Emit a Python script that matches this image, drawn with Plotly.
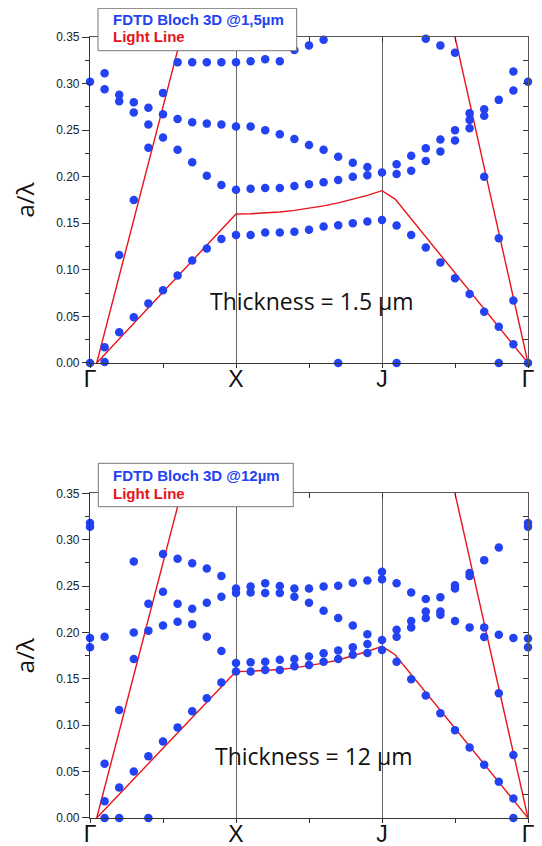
import plotly.graph_objects as go

# ---------------- data ----------------
# k index along the path: 0 = Gamma, 10 = X, 20 = J, 30 = Gamma
tick_vals = [0, 10, 20, 30]
tick_text = ["Γ", "X", "J", "Γ"]

# Top panel: thickness 1.5 um  (k index, a/lambda)
top_k = (
    [0, 0] + [1] * 4 + [2] * 4 + [3] * 4 + [4] * 4 + [5] * 4 + [6] * 4 + [7] * 4
    + [8] * 4 + [9] * 4 + [10] * 4 + [11] * 4 + [12] * 4 + [13] * 4 + [14] * 4
    + [15] * 4 + [16] * 4 + [17] * 4 + [18] * 3 + [19] * 3 + [20] * 2 + [21] * 4
    + [22] * 3 + [23] * 4 + [24] * 4 + [25] * 4 + [26] * 4 + [27] * 4 + [28] * 4
    + [29] * 4 + [30] * 2
)
top_f = [
    0.302, 0.000,
    0.311, 0.294, 0.017, 0.001,
    0.288, 0.281, 0.116, 0.033,
    0.280, 0.269, 0.175, 0.049,
    0.274, 0.256, 0.231, 0.064,
    0.290, 0.267, 0.242, 0.078,
    0.323, 0.262, 0.229, 0.094,
    0.323, 0.2585, 0.2155, 0.110,
    0.323, 0.257, 0.201, 0.123,
    0.323, 0.256, 0.191, 0.133,
    0.323, 0.254, 0.186, 0.1375,
    0.324, 0.254, 0.187, 0.1375,
    0.326, 0.250, 0.188, 0.140,
    0.324, 0.2455, 0.188, 0.140,
    0.336, 0.2405, 0.190, 0.141,
    0.341, 0.234, 0.192, 0.143,
    0.347, 0.229, 0.194, 0.1465,
    0.2215, 0.1965, 0.148, 0.000,
    0.215, 0.200, 0.150,
    0.2105, 0.2015, 0.152,
    0.2045, 0.1535,
    0.2135, 0.203, 0.1475, 0.000,
    0.2225, 0.2065, 0.1375,
    0.348, 0.2305, 0.217, 0.124,
    0.341, 0.240, 0.227, 0.108,
    0.333, 0.250, 0.239, 0.091,
    0.268, 0.261, 0.252, 0.074,
    0.2725, 0.2655, 0.200, 0.055,
    0.2825, 0.134, 0.039, 0.000,
    0.313, 0.2925, 0.067, 0.020,
    0.302, 0.000,
]

# Bottom panel: thickness 12 um
bot_k = (
    [0] * 4 + [1] * 4 + [2] * 3 + [3] * 4 + [4] * 4 + [5] * 4 + [6] * 4 + [7] * 4
    + [8] * 4 + [9] * 4 + [10] * 4 + [11] * 4 + [12] * 4 + [13] * 4 + [14] * 4
    + [15] * 4 + [16] * 4 + [17] * 4 + [18] * 4 + [19] * 4 + [20] * 4 + [21] * 4
    + [22] * 4 + [23] * 4 + [24] * 4 + [25] * 4 + [26] * 4 + [27] * 4 + [28] * 4
    + [29] * 4 + [30] * 4
)
bot_f = [
    0.318, 0.314, 0.194, 0.184,
    0.1955, 0.0585, 0.018, 0.000,
    0.1165, 0.033, 0.000,
    0.2765, 0.200, 0.1715, 0.050,
    0.231, 0.202, 0.0665, 0.000,
    0.2845, 0.244, 0.2075, 0.0825,
    0.2795, 0.231, 0.2115, 0.0975,
    0.2745, 0.2255, 0.209, 0.115,
    0.269, 0.232, 0.1955, 0.129,
    0.261, 0.2385, 0.180, 0.146,
    0.2475, 0.2425, 0.167, 0.158,
    0.2495, 0.243, 0.168, 0.158,
    0.253, 0.2425, 0.1685, 0.1595,
    0.250, 0.2425, 0.1705, 0.1595,
    0.2475, 0.2385, 0.1715, 0.1635,
    0.2475, 0.232, 0.174, 0.165,
    0.2495, 0.2235, 0.1775, 0.1685,
    0.2505, 0.2155, 0.1805, 0.1715,
    0.2535, 0.2075, 0.184, 0.176,
    0.256, 0.198, 0.1875, 0.178,
    0.2655, 0.2575, 0.192, 0.181,
    0.253, 0.203, 0.1955, 0.1685,
    0.243, 0.2125, 0.2055, 0.1495,
    0.236, 0.2225, 0.2155, 0.132,
    0.238, 0.2225, 0.219, 0.113,
    0.251, 0.2475, 0.2125, 0.0945,
    0.264, 0.261, 0.2055, 0.076,
    0.278, 0.2055, 0.195, 0.0575,
    0.2915, 0.1975, 0.1345, 0.039,
    0.194, 0.068, 0.021, 0.000,
    0.318, 0.314, 0.1935, 0.184,
]

# Light lines (None separates the segments)
light_k = [0.46, 10, None, 0.46, 10, 11, 12, 13, 14, 15, 16, 17, 18, 19, 20, 20.9, 30, None, 30, 20]
top_light_f = [0, 0.578, None, 0, 0.160, 0.1602, 0.1609, 0.1621, 0.1638, 0.1660, 0.1687,
               0.1719, 0.1757, 0.1800, 0.185, 0.176, 0, None, 0, 0.70]
bot_light_f = [0, 0.578, None, 0, 0.158, 0.1582, 0.1589, 0.1601, 0.1618, 0.1641, 0.1669,
               0.1703, 0.1745, 0.1795, 0.185, 0.176, 0, None, 0, 0.70]

y_ticks = [0.0, 0.05, 0.10, 0.15, 0.20, 0.25, 0.30, 0.35]
legend_top = "FDTD Bloch 3D @1,5µm"
legend_bot = "FDTD Bloch 3D @12µm"
legend_light = "Light Line"
thick_top = "Thickness = 1.5 µm"
thick_bot = "Thickness = 12 µm"

# ---------------- style ----------------
BLUE = "#2342f2"
RED = "#e8141c"
AXC = "#333333"

fig = go.Figure()

for k, f, lf, xa, ya in [(top_k, top_f, top_light_f, "x", "y"),
                         (bot_k, bot_f, bot_light_f, "x2", "y2")]:
    fig.add_trace(go.Scatter(x=light_k, y=lf, mode="lines", xaxis=xa, yaxis=ya,
                             line=dict(color=RED, width=1.4), showlegend=False,
                             hoverinfo="skip"))
    fig.add_trace(go.Scatter(x=k, y=f, mode="markers", xaxis=xa, yaxis=ya,
                             marker=dict(color=BLUE, size=8.5, line=dict(width=0)),
                             cliponaxis=False, showlegend=False))

# dummy traces for the mirror (top/right) axes
for xa, ya in [("x3", "y"), ("x", "y3"), ("x4", "y2"), ("x2", "y4")]:
    fig.add_trace(go.Scatter(x=[None], y=[None], xaxis=xa, yaxis=ya,
                             showlegend=False, hoverinfo="skip"))

top_dom = [0.5826, 1.0]
bot_dom = [0.0, 0.4157]

def xmain(anchor):
    return dict(range=[0, 30], tickmode="array", tickvals=tick_vals, ticktext=tick_text,
                ticks="outside", ticklen=4, tickcolor=AXC, ticklabelstandoff=-9,
                minor=dict(tickvals=[5, 15, 25], ticks="outside", ticklen=4, tickcolor=AXC),
                showline=True, linecolor=AXC, linewidth=1.2,
                showgrid=True, gridcolor="#666666", gridwidth=1,
                zeroline=False, anchor=anchor, automargin=False,
                tickfont=dict(family="Liberation Sans, Arial, sans-serif", size=23, color="#111"),
                fixedrange=True)

def ymain(anchor, dom):
    return dict(range=[0, 0.35], domain=dom, tickmode="array", tickvals=y_ticks,
                tickformat=".2f", ticks="outside", ticklen=7, tickcolor=AXC,
                minor=dict(dtick=0.025, tick0=0, ticks="outside", ticklen=4, tickcolor=AXC),
                showline=True, linecolor=AXC, linewidth=1.2, showgrid=False,
                zeroline=False, anchor=anchor, automargin=False,
                tickfont=dict(family="Liberation Sans, Arial, sans-serif", size=12, color="#222"),
                title=dict(text="a/λ", standoff=14,
                           font=dict(family="Open Sans, sans-serif", size=24, color="#111")),
                fixedrange=True)

def xtop(base, anchor):
    return dict(range=[0, 30], overlaying=base, side="top", anchor=anchor,
                tickmode="array", tickvals=[5, 10, 15, 20, 25], ticks="inside",
                ticklen=5, tickcolor=AXC, showticklabels=False, automargin=False,
                showline=True, linecolor="#555", linewidth=1, showgrid=False,
                zeroline=False, fixedrange=True)

def yright(base, anchor):
    return dict(range=[0, 0.35], overlaying=base, side="right", anchor=anchor,
                tickmode="linear", tick0=0, dtick=0.025, ticks="inside",
                ticklen=5, tickcolor=AXC, showticklabels=False, automargin=False,
                showline=True, linecolor="#555", linewidth=1, showgrid=False,
                zeroline=False, fixedrange=True)

# The page body has an 8px margin, so the figure is 8px smaller and margins are shifted.
fig.update_layout(
    width=534, height=838,
    margin=dict(l=82, r=14, t=29, b=28, autoexpand=False),
    paper_bgcolor="white", plot_bgcolor="white",
    showlegend=False,
    xaxis=xmain("y"), yaxis=ymain("x", top_dom),
    xaxis2=xmain("y2"), yaxis2=ymain("x2", bot_dom),
    xaxis3=xtop("x", "y"), yaxis3=yright("y", "x"),
    xaxis4=xtop("x2", "y2"), yaxis4=yright("y2", "x2"),
)

# legend boxes (drawn above the traces); positions in page pixels
PW, PH = 438.0, 781.0
def px_x(p):
    return (p - 90) / PW
def px_y(p):
    return 1 - (p - 37) / PH

for (l, r, t, b) in [(98, 296.7, 8.3, 50.7), (98.3, 293.3, 463.3, 506.7)]:
    fig.add_shape(type="rect", xref="paper", yref="paper",
                  x0=px_x(l), x1=px_x(r), y0=px_y(b), y1=px_y(t),
                  line=dict(color="#777", width=1), fillcolor="white", layer="above")

legfont = "Liberation Sans, Arial, sans-serif"
for txt, color, xpix, ypix in [(legend_top, BLUE, 111, 19.5), (legend_light, RED, 111, 36.3),
                               (legend_bot, BLUE, 111.3, 475.3), (legend_light, RED, 111.3, 493.8)]:
    fig.add_annotation(xref="paper", yref="paper", x=px_x(xpix), y=px_y(ypix),
                       xanchor="left", yanchor="middle", showarrow=False,
                       text="<b>" + txt + "</b>",
                       font=dict(family=legfont, size=15, color=color))

# thickness labels
fig.add_annotation(xref="x", yref="y", x=15.2, y=0.067, text=thick_top, showarrow=False,
                   font=dict(family="Open Sans, sans-serif", size=23, color="#111"))
fig.add_annotation(xref="x2", yref="y2", x=15.35, y=0.067, text=thick_bot, showarrow=False,
                   font=dict(family="Open Sans, sans-serif", size=23, color="#111"))

fig.write_html("out.html")
